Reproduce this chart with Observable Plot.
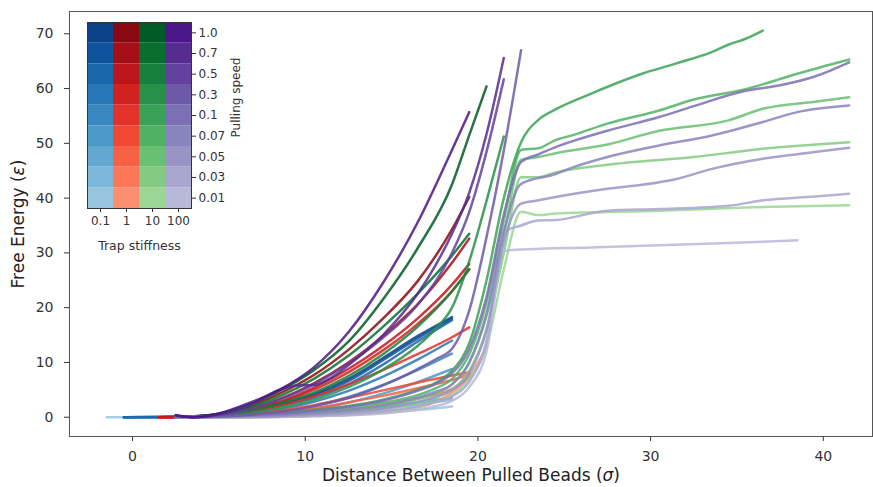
<!DOCTYPE html>
<html>
<head>
<meta charset="utf-8">
<script src="https://cdn.jsdelivr.net/npm/d3@7"></script>
<script src="https://cdn.jsdelivr.net/npm/@observablehq/plot@0.6"></script>
<style>
  body { margin: 0; background: white; }
  #chart { position: relative; width: 873px; height: 487px; }
  #chart svg { position: absolute; left: 0; top: 0; }
</style>
</head>
<body>
<div id="chart"></div>
<script>
// Pulling speeds (slowest first) and trap stiffnesses
const speeds = ["0.01", "0.03", "0.05", "0.07", "0.1", "0.3", "0.5", "0.7", "1.0"];
const stiffnesses = ["0.1", "1", "10", "100"];
const xTicks = [0, 10, 20, 30, 40];
const yTicks = [0, 10, 20, 30, 40, 50, 60, 70];

// Free-energy profiles [distance, energy], one list per pulling speed (same order as speeds)
const curvesK01 = [
  [[-1.5,0],[4.5,0],[8.5,0.05],[10.5,0.2],[12.5,0.4],[14.5,0.8],[16.5,1.3],[18.5,1.95]],
  [[-0.5,0],[4.5,0],[8.5,0.2],[10.5,0.5],[12.5,1.0],[14.5,1.6],[16.5,2.3],[18.5,3.2]],
  [[-0.5,0],[4.5,0],[8.5,0.3],[10.5,0.7],[12.5,1.2],[14.5,1.9],[16.5,2.7],[18.5,3.6]],
  [[-0.5,0],[4.5,0.05],[6.5,0.2],[8.5,0.7],[10.5,1.5],[12.5,2.7],[14.5,4.3],[16.5,6.4],[18.5,8.8]],
  [[-0.5,0],[4.5,0.1],[6.5,0.4],[8.5,1.0],[10.5,2.1],[12.5,3.7],[14.5,5.9],[16.5,8.6],[18.5,11.6]],
  [[-0.5,0],[4.5,0.1],[6.5,0.5],[8.5,1.4],[10.5,2.8],[12.5,4.8],[14.5,7.4],[16.5,10.5],[18.5,14.0]],
  [[-0.5,0],[4.5,0.2],[6.5,0.9],[8.5,2.0],[10.5,3.6],[12.5,6.0],[14.5,9.6],[16.5,13.8],[18.5,17.7]],
  [[1.5,0],[4.5,0.3],[6.5,1.0],[8.5,2.2],[10.5,3.9],[12.5,6.6],[14.5,10.4],[16.5,14.4],[18.5,18.0]],
  [[1.5,0],[4.5,0.3],[6.5,1.1],[8.5,2.4],[10.5,4.2],[12.5,7.0],[14.5,10.8],[16.5,14.8],[18.5,18.3]]
];
const curvesK1 = [
  [[1.5,0],[6.5,0],[10.5,0.2],[14.5,0.9],[16.5,1.8],[17.5,2.7],[18.5,4.5],[19.5,7.4],[20.5,12.8]],
  [[1.5,0],[6.5,0.1],[8.5,0.3],[10.5,0.7],[12.5,1.3],[14.5,2.2],[16.5,3.4],[18.5,5.2],[19.5,7.2]],
  [[1.5,0],[4.5,0.05],[6.5,0.3],[8.5,0.8],[10.5,1.6],[12.5,2.7],[14.5,3.9],[16.5,5.3],[18.5,6.8],[19.5,7.8]],
  [[1.5,0],[4.5,0.1],[6.5,0.5],[8.5,1.2],[10.5,2.2],[12.5,3.5],[14.5,4.9],[16.5,6.3],[18.5,7.6],[19.5,8.2]],
  [[1.5,0],[4.5,0.2],[6.5,0.8],[8.5,2.0],[10.5,3.8],[12.5,6.0],[14.5,8.6],[16.5,11.5],[18.5,14.6],[19.5,16.4]],
  [[2.5,0],[4.5,0.2],[6.5,1.0],[8.5,2.6],[10.5,5.0],[12.5,8.2],[14.5,12.2],[16.5,17.0],[18.5,23.0],[19.5,27.0]],
  [[1.5,0],[4.5,0.2],[6.5,1.1],[8.5,2.8],[10.5,5.4],[12.5,8.8],[14.5,13.0],[16.5,18.0],[18.5,24.2],[19.5,28.0]],
  [[2.5,0],[4.5,0.3],[6.5,1.3],[8.5,3.3],[10.5,6.2],[12.5,10.0],[14.5,14.8],[16.5,20.6],[18.5,28.2],[19.5,32.6]],
  [[2.5,0],[4.5,0.4],[6.5,1.7],[8.5,4.3],[10.5,7.7],[12.5,12.3],[14.5,18.0],[16.5,24.8],[18.5,34.3],[19.5,40.2]]
];
const curvesK10 = [
  [[2.5,0],[6.5,0],[10.5,0.3],[14.5,1.0],[16.5,1.9],[17.5,2.7],[18.5,4.0],[19.5,7.0],[20.5,13.0],[21.5,27.0],[22.5,37.5],[23.5,36.9],[24.5,37.2],[30.5,37.7],[35.5,38.3],[41.5,38.7]],
  [[2.5,0],[6.5,0.05],[10.5,0.5],[14.5,1.5],[16.5,2.6],[17.5,3.5],[18.5,5.0],[19.5,8.5],[20.5,16.0],[21.5,30.0],[22.5,43.8],[23.5,43.8],[24.5,44.7],[27.5,46.1],[32.5,47.5],[36.5,49.0],[41.5,50.2]],
  [[2.5,0],[6.5,0.1],[10.5,0.7],[14.5,2.0],[16.5,3.3],[17.5,4.3],[18.5,6.0],[19.5,10.0],[20.5,18.5],[21.5,33.0],[22.5,47.0],[23.5,47.5],[24.5,48.2],[27.5,49.8],[30.5,52.3],[34.5,54.2],[36.5,56.3],[39.5,57.6],[41.5,58.4]],
  [[2.5,0],[6.5,0.2],[10.5,1.0],[14.5,2.6],[16.5,4.0],[17.5,5.2],[18.5,7.0],[19.5,11.5],[20.5,21.0],[21.5,36.0],[22.5,48.8],[23.5,49.1],[24.5,50.6],[25.5,51.5],[27.5,53.6],[30.5,56.0],[32.5,58.0],[35.5,59.9],[38.5,62.7],[41.5,65.3]],
  [[2.5,0],[6.5,0.3],[10.5,1.3],[14.5,3.2],[16.5,5.0],[17.5,6.2],[18.5,8.5],[19.5,13.5],[20.5,25.0],[21.5,40.0],[22.5,50.2],[23.5,54.3],[24.5,56.2],[26.5,59.0],[29.5,62.7],[31.5,64.6],[33.5,66.6],[34.5,68.0],[35.5,69.1],[36.5,70.6]],
  [[2.5,0],[4.5,0.2],[6.5,0.7],[8.5,1.7],[10.5,3.2],[12.5,5.5],[14.5,8.7],[16.5,13.0],[17.5,16.0],[18.5,20.0],[19.5,28.5],[20.5,39.5],[21.5,51.25]],
  [[2.5,0],[4.5,0.2],[6.5,1.0],[8.5,2.5],[10.5,4.5],[12.5,7.5],[14.5,11.5],[16.5,16.5],[18.5,23.0],[19.5,27.0]],
  [[2.5,0],[4.5,0.3],[6.5,1.5],[8.5,3.8],[10.5,7.0],[12.5,11.2],[14.5,16.5],[16.5,22.5],[18.5,29.5],[19.5,33.5]],
  [[2.5,0],[4.5,0.4],[6.5,2.0],[8.5,4.8],[10.5,8.6],[12.5,13.8],[14.5,21.5],[16.5,30.8],[18.5,42.5],[19.5,51.5],[20.5,60.4]]
];
const curvesK100 = [
  [[2.5,0],[6.5,0],[10.5,0.2],[14.5,0.7],[16.5,1.4],[17.5,2.0],[18.5,3.0],[19.5,5.5],[20.5,12.0],[21.5,30.4],[22.5,30.6],[26.5,31.0],[30.5,31.4],[34.5,31.8],[38.5,32.3]],
  [[2.5,0],[6.5,0.05],[10.5,0.3],[14.5,1.1],[16.5,2.0],[17.5,2.8],[18.5,3.8],[19.5,6.5],[20.5,14.0],[21.5,33.8],[22.5,35.0],[23.5,35.9],[24.5,36.0],[27.5,37.7],[30.5,38.0],[34.5,38.6],[36.5,39.6],[39.5,40.3],[41.5,40.8]],
  [[2.5,0.1],[6.5,0.1],[10.5,0.5],[14.5,1.6],[16.5,2.8],[17.5,3.7],[18.5,5.0],[19.5,8.0],[20.5,16.0],[21.5,32.0],[22.5,39.0],[23.5,39.6],[24.5,40.2],[27.5,41.7],[30.5,42.9],[31.5,43.5],[33.5,45.3],[36.5,47.2],[39.5,48.4],[41.5,49.2]],
  [[2.5,0.1],[6.5,0.2],[10.5,0.8],[14.5,2.2],[16.5,3.6],[17.5,4.6],[18.5,6.0],[19.5,10.0],[20.5,19.0],[21.5,34.0],[22.5,42.6],[24.5,44.4],[25.5,45.6],[27.5,47.5],[30.5,49.6],[33.5,51.4],[36.5,53.9],[38.5,55.7],[41.5,56.9]],
  [[2.5,0.2],[3.5,0],[6.5,0.3],[10.5,1.2],[14.5,3.0],[16.5,4.8],[17.5,6.0],[18.5,8.0],[19.5,12.5],[20.5,22.0],[21.5,37.0],[22.5,46.6],[23.5,48.0],[24.5,49.3],[27.5,52.3],[30.5,54.8],[32.5,56.8],[35.5,59.6],[37.5,60.6],[39.5,62.2],[41.5,64.8]],
  [[2.5,0.2],[3.5,0],[4.5,0.1],[6.5,0.4],[8.5,1.0],[10.5,2.0],[12.5,3.5],[14.5,5.8],[16.5,8.8],[17.5,10.5],[18.5,12.5],[19.5,19.5],[20.5,32.9],[21.5,48.7],[22.5,67.0]],
  [[2.5,0.2],[3.5,0],[4.5,0.2],[6.5,1.2],[8.5,3.2],[10.5,6.0],[12.5,9.8],[14.5,14.5],[16.5,20.5],[18.5,30.0],[19.5,37.5],[20.5,48.5],[21.5,61.7]],
  [[2.5,0.3],[3.5,0],[4.5,0.3],[6.5,1.8],[8.5,5.0],[9.5,5.8],[10.5,5.9],[11.5,7.2],[12.5,9.5],[14.5,15.0],[16.5,22.5],[17.5,27.5],[18.5,33.5],[19.5,41.0],[20.5,51.7],[21.5,65.6]],
  [[2.5,0.4],[3.5,0],[4.5,0.3],[6.5,2.3],[8.5,5.0],[10.5,9.1],[12.5,15.5],[14.5,24.5],[16.5,35.5],[18.5,48.8],[19.5,55.7]]
];

// One sequential colour ramp per stiffness; darker = faster pulling
const ramps = [d3.interpolateBlues, d3.interpolateReds, d3.interpolateGreens, d3.interpolatePurples];
const groups = [curvesK01, curvesK1, curvesK10, curvesK100];
const shade = (k, i) => ramps[k](0.39 + i * 0.0675);

const fontFamily = "'DejaVu Sans', sans-serif";
const chart = document.getElementById("chart");

// Axis titles are split into runs so the Greek symbol can be set in italics
const ctx = document.createElement("canvas").getContext("2d");
function measure(str, size, italic) {
  ctx.font = `${italic ? "italic " : ""}${size}px ${fontFamily}`;
  return ctx.measureText(str).width;
}
function titleRuns(parts, size) {
  // parts: [[text, italic], ...] → offsets of each run from the title's centre
  const widths = parts.map(([s, it]) => measure(s, size, it));
  const total = d3.sum(widths);
  let acc = -total / 2;
  return parts.map(([s, it], i) => {
    const run = {text: s, italic: it, offset: acc};
    acc += widths[i];
    return run;
  });
}
const titleSize = 17;
const yTitle = titleRuns([["Free Energy (", false], ["ε", true], [")", false]], titleSize);
const xTitle = titleRuns([["Distance Between Pulled Beads (", false], ["σ", true], [")", false]], titleSize);

const lineMarks = [];
groups.forEach((curves, k) => {
  curves.forEach((pts, i) => {
    lineMarks.push(Plot.line(pts, {
      x: d => d[0], y: d => d[1],
      stroke: shade(k, i), strokeWidth: 2.5, strokeOpacity: 0.85,
      curve: "monotone-x"
    }));
  });
});

const titleMarks = [
  ...yTitle.map(r => Plot.text([r.text], {
    frameAnchor: "left", dx: -51, dy: -r.offset, rotate: -90,
    textAnchor: "start", lineAnchor: "middle", fontSize: titleSize,
    fontStyle: r.italic ? "italic" : "normal", fill: "#222"
  })),
  ...xTitle.map(r => Plot.text([r.text], {
    frameAnchor: "bottom", dy: 39, dx: r.offset,
    textAnchor: "start", lineAnchor: "middle", fontSize: titleSize,
    fontStyle: r.italic ? "italic" : "normal", fill: "#222"
  }))
];

const main = Plot.plot({
  width: 873, height: 487,
  marginLeft: 69, marginTop: 11, marginRight: 1, marginBottom: 51,
  x: {domain: [-3.65, 42.85], ticks: xTicks, tickSize: 5, tickPadding: 10, label: null},
  y: {domain: [-3.52, 74.07], ticks: yTicks, tickSize: 5, tickPadding: 11, label: null},
  style: {fontFamily, fontSize: "14px", color: "#333", background: "white"},
  marks: [
    ...lineMarks,
    Plot.frame({stroke: "#555"}),
    ...titleMarks
  ]
});
chart.appendChild(main);

// Inset key: stiffness × speed grid of line colours
const cells = [];
stiffnesses.forEach((s, k) => speeds.forEach((v, i) => cells.push({stiffness: s, speed: v, color: shade(k, i)})));

const key = Plot.plot({
  width: 262, height: 262,
  marginLeft: 87, marginTop: 22, marginRight: 71, marginBottom: 54,
  x: {domain: stiffnesses, padding: 0, round: false, tickSize: 4, tickPadding: 4, label: null},
  y: {domain: speeds.slice().reverse(), padding: 0, round: false, axis: "right", tickSize: 4, tickPadding: 3, label: null},
  color: {type: "identity"},
  style: {fontFamily, fontSize: "12px", color: "#333", background: "transparent"},
  marks: [
    Plot.cell(cells, {x: "stiffness", y: "speed", fill: "color"}),
    Plot.frame({stroke: "#333"}),
    Plot.text(["Trap stiffness"], {frameAnchor: "bottom", dy: 37, textAnchor: "middle", lineAnchor: "middle", fontSize: 12.5, fill: "#333"}),
    Plot.text(["Pulling speed"], {frameAnchor: "right", dx: 45, dy: -18, rotate: -90, textAnchor: "middle", lineAnchor: "middle", fontSize: 12, fill: "#333"})
  ]
});
chart.appendChild(key);
</script>
</body>
</html>
